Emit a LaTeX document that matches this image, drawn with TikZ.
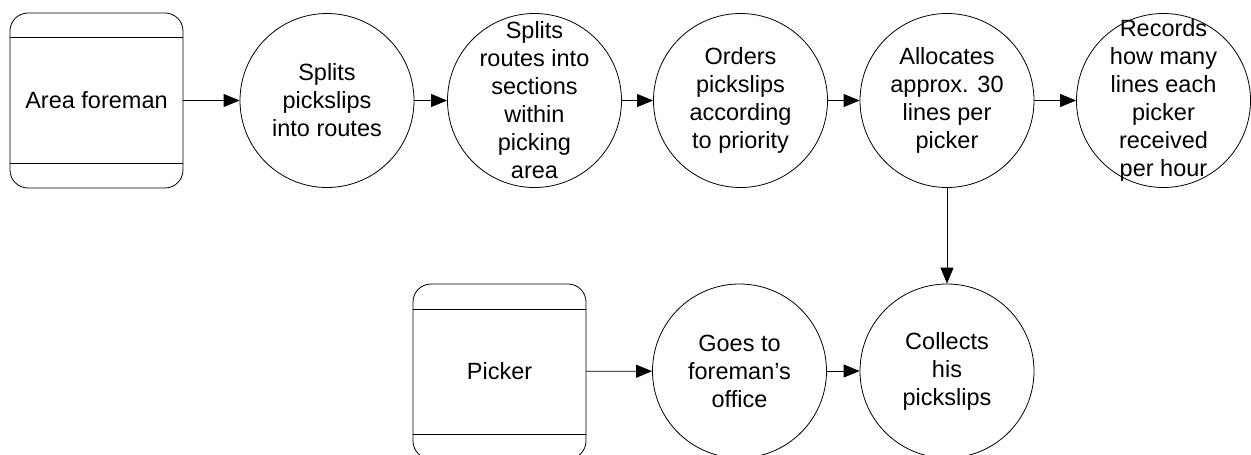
\documentclass[tikz,border=0pt]{standalone}
\usepackage{fontspec}
\setmainfont{Liberation Sans}
\usetikzlibrary{arrows.meta,calc}
\begin{document}
\begin{tikzpicture}[x=1pt,y=-1pt,
  proc/.style={draw, circle, minimum size=174pt, inner sep=0pt, line width=0.8pt},
  lbl/.style={align=center, font=\fontsize{23.5}{28}\selectfont, inner sep=0pt},
  extent/.style={draw, rectangle, rounded corners=18pt, minimum width=173pt, minimum height=175pt, inner sep=0pt, line width=0.8pt},
  arr/.style={-{Triangle[length=16pt,width=13pt]}, line width=0.8pt}]
\useasboundingbox (0,0) rectangle (1251,455);
% external entities
\node[extent] (af) at (96.5,100.5) {};
\node[extent] (pk) at (499.5,371.5) {};
\draw[line width=0.8pt] ($(af.north west)+(0,25)$) -- ($(af.north east)+(0,25)$);
\draw[line width=0.8pt] ($(af.south west)+(0,-25)$) -- ($(af.south east)+(0,-25)$);
\draw[line width=0.8pt] ($(pk.north west)+(0,26)$) -- ($(pk.north east)+(0,26)$);
\draw[line width=0.8pt] ($(pk.south west)+(0,-25)$) -- ($(pk.south east)+(0,-25)$);
\node[lbl] (afl) at (af) {Area foreman};
\node[lbl] (pkl) at (pk) {Picker};
% processes
\node[proc] (c1) at (327,100.5) {};
\node[proc] (c2) at (534.5,100.5) {};
\node[proc] (c3) at (740.5,100.5) {};
\node[proc] (c4) at (947,100.5) {};
\node[proc] (c5) at (1163.5,100.5) {};
\node[proc] (c6) at (739.5,371) {};
\node[proc] (c7) at (947,371) {};
\node[lbl] (t1) at (c1) {Splits\\pickslips\\into routes};
\node[lbl] (t2) at (c2) {Splits\\routes into\\sections\\within\\picking\\area};
\node[lbl] (t3) at (c3) {Orders\\pickslips\\according\\to priority};
\node[lbl] (t4) at (c4) {Allocates\\approx. 30\\lines per\\picker};
\node[lbl] (t5) at (c5) {Records\\how many\\lines each\\picker\\received\\per hour};
\node[lbl] (t6) at (c6) {Goes to\\foreman’s\\office};
\node[lbl] (t7) at (c7) {Collects\\his\\pickslips};
% flows
\draw[arr] (af) -- (c1);
\draw[arr] (c1) -- (c2);
\draw[arr] (c2) -- (c3);
\draw[arr] (c3) -- (c4);
\draw[arr] (c4) -- (c5);
\draw[arr] (c4) -- (c7);
\draw[arr] (pk) -- (c6);
\draw[arr] (c6) -- (c7);
\end{tikzpicture}
\end{document}
